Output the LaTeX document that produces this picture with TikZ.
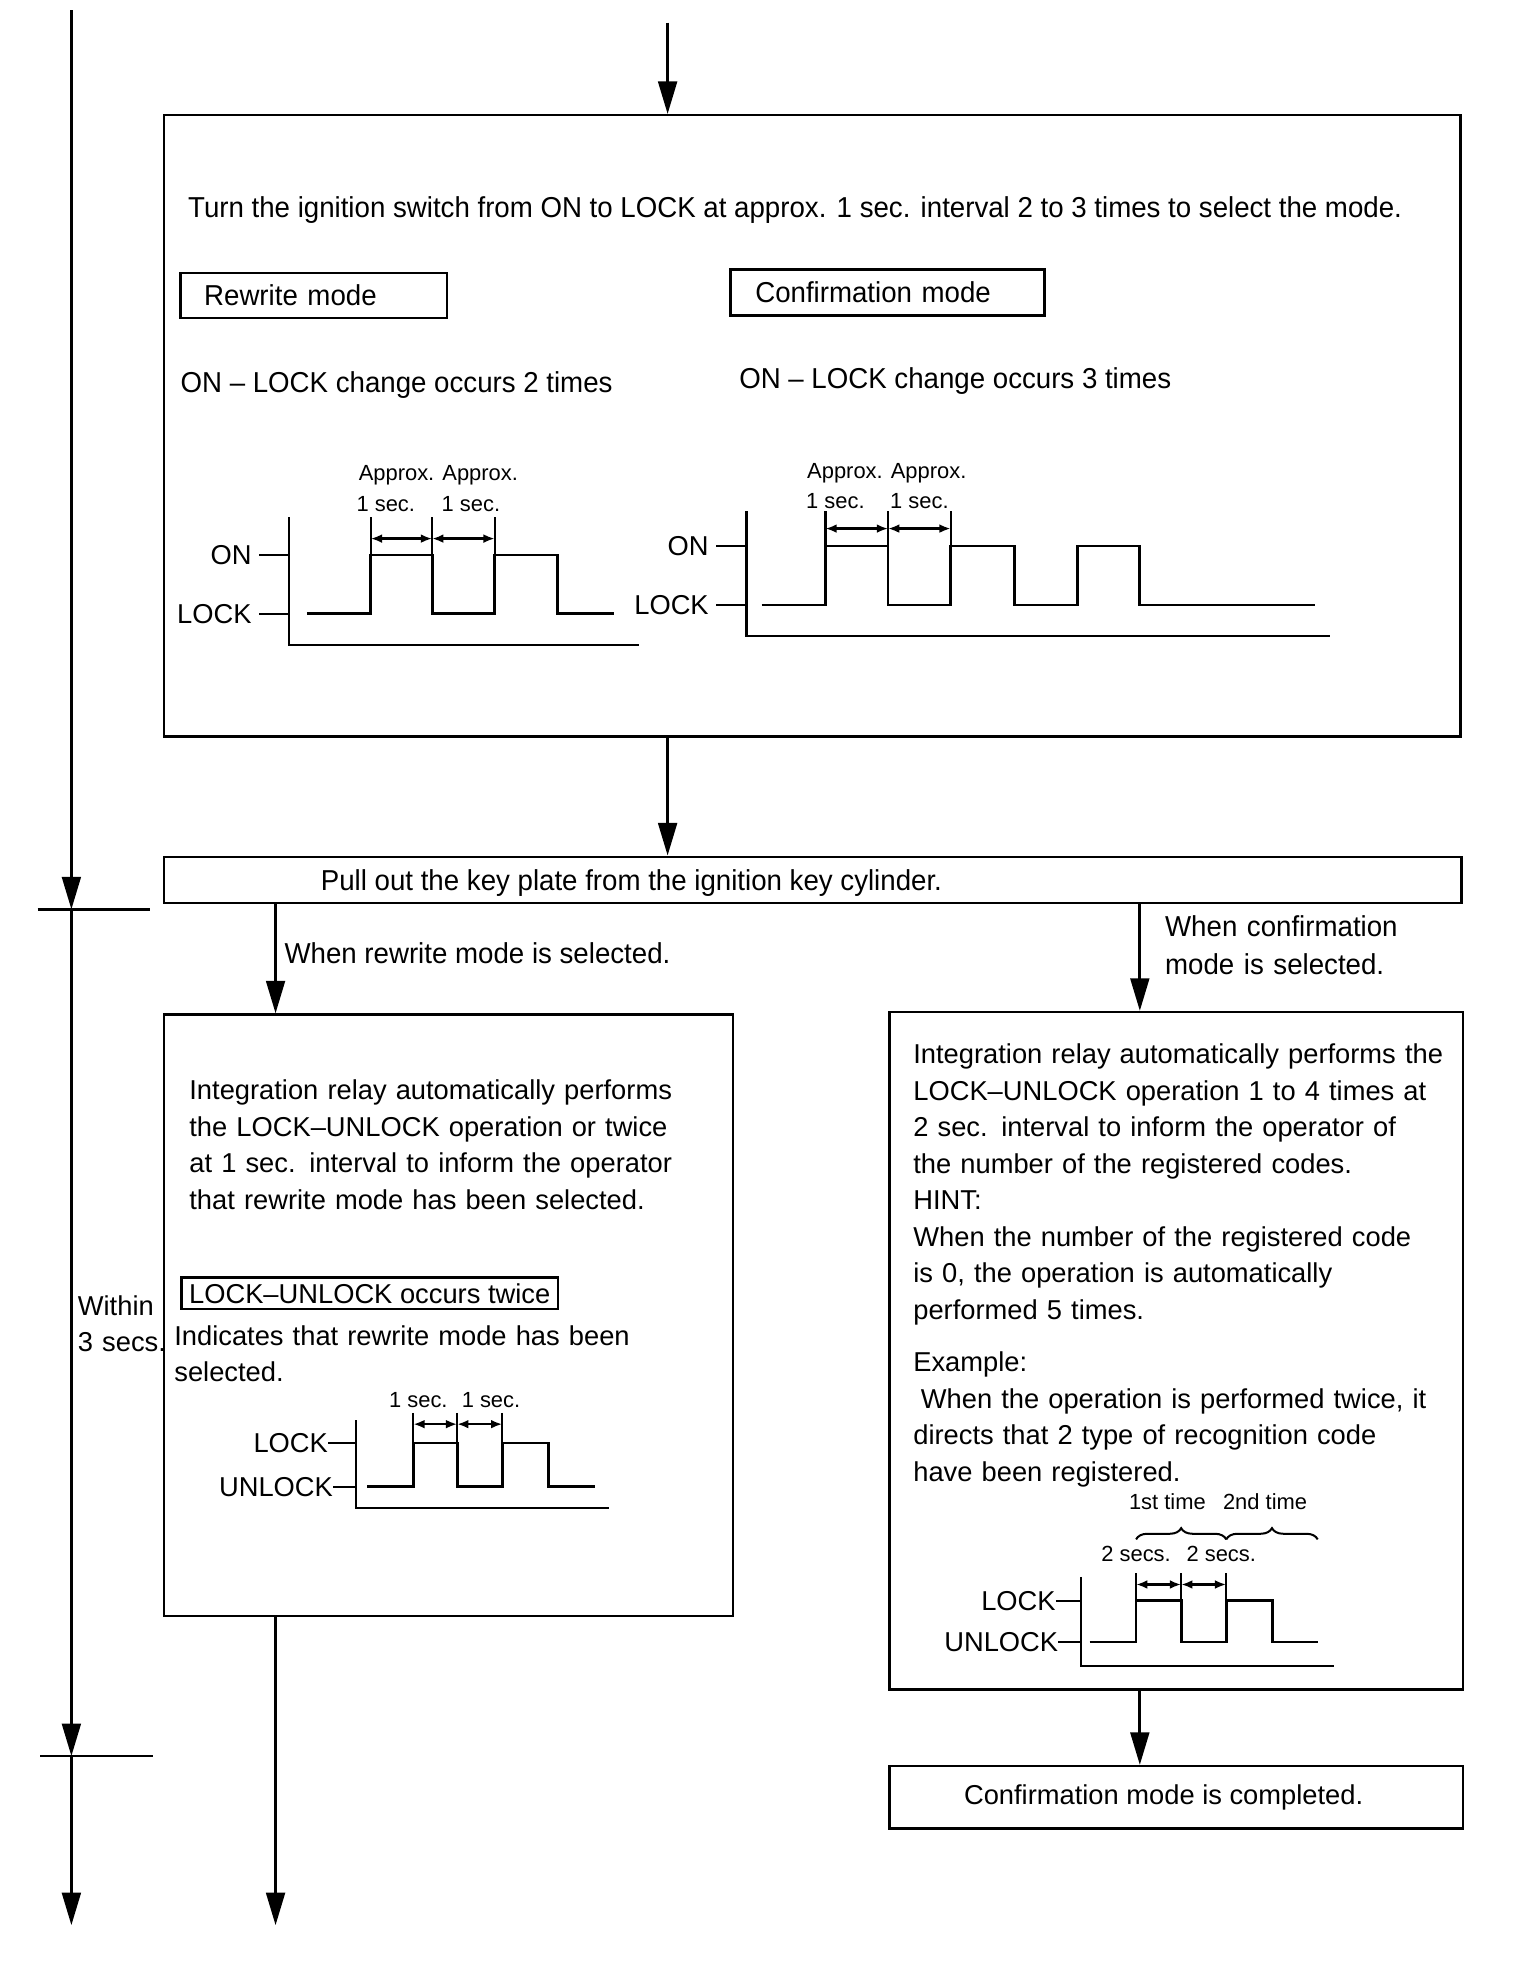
\documentclass[tikz,border=0pt]{standalone}
\usepackage{fontspec}
\setmainfont{Liberation Sans}
\newfontfamily\narrowfont[FakeStretch=0.96]{Liberation Sans}
\usetikzlibrary{arrows.meta,decorations.pathreplacing}

\newcommand{\bodysize}{\fontsize{21.8}{29.2}\selectfont}
\newcommand{\topsize}{\narrowfont\fontsize{23}{30}\selectfont}
\newcommand{\smallsize}{\fontsize{17.5}{20}\selectfont}

\begin{document}
\begin{tikzpicture}[x=1pt,y=-1pt,
  box/.style={draw,line width=2pt,inner sep=0pt},
  flow/.style={line width=2.2pt,-{Triangle[length=26pt,width=15pt]}},
  bar/.style={line width=2.2pt},
  txt/.style={inner sep=0pt,anchor=base west,font=\bodysize},
  ntxt/.style={inner sep=0pt,anchor=base west,font=\topsize},
  para/.style={txt,text width=#1,align=left},
  npara/.style={ntxt,text width=#1,align=left},
  smalltxt/.style={inner sep=0pt,anchor=base,font=\smallsize},
  lvl/.style={inner sep=0pt,anchor=east,font=\bodysize},
  chartaxis/.style={line width=1.8pt},
  wave/.style={line width=2.2pt},
  dimarrow/.style={line width=1.8pt,{Latex[length=9pt,width=7pt]}-{Latex[length=9pt,width=7pt]}},
  brace/.style={decorate,decoration={brace,amplitude=9pt},line width=1.6pt},
]
\useasboundingbox (0,0) rectangle (1214,1568);

% time line on the left
\coordinate (ltop) at (57,8);
\coordinate (t1) at (57,726);
\coordinate (t2) at (57,1402);
\coordinate (lend) at (57,1537);
\draw[flow] (ltop) -- (t1);
\draw[flow] (t1) -- (t2);
\draw[flow] (t2) -- (lend);
\draw[bar] ([xshift=-27pt]t1) -- ([xshift=63pt]t1);
\draw[bar] ([xshift=-25pt]t2) -- ([xshift=65pt]t2);
\node[para=80pt] (within) at (62,1050) {Within\\3 secs.};

% mode selection
\coordinate (tin) at (533,18);
\node[box,minimum width=1035pt,minimum height=496pt] (sel) at (648.5,340) {};
\draw[flow] (tin) -- (tin |- sel.north);
\node[ntxt] (turn) at (150,174) {Turn the ignition switch from ON to LOCK at approx. 1 sec. interval 2 to 3 times to select the mode.};
\node[box,minimum width=213pt,minimum height=36pt,text width=175pt,align=left,font=\topsize] (rwmode) at (250.5,236) {Rewrite mode};
\node[box,minimum width=251pt,minimum height=37pt,text width=211pt,align=left,font=\topsize] (cfmode) at (708.5,233.5) {Confirmation mode};
\node[ntxt] (rwcount) at (144,313) {ON – LOCK change occurs 2 times};
\node[ntxt] (cfcount) at (590,310) {ON – LOCK change occurs 3 times};

% ON/LOCK chart, 2 times
\draw[chartaxis] (231,413) -- (231,515) -- (510,515);
\draw[chartaxis] (207,443) -- (231,443) (207,490) -- (231,490);
\node[lvl] at (201,443) {ON};
\node[lvl] at (201,490) {LOCK};
\draw[wave] (245,490) -- (296,490) -- (296,443) -- (345,443) -- (345,490) -- (395,490) -- (395,443) -- (445,443) -- (445,490) -- (490,490);
\foreach \x in {296,345,395} \draw[chartaxis] (\x,413) -- (\x,443);
\draw[dimarrow] (296,430) -- (345,430);
\draw[dimarrow] (345,430) -- (395,430);
\node[smalltxt] at (350,384) {Approx. Approx.};
\node[smalltxt] at (308,408) {1 sec.};
\node[smalltxt] at (376,408) {1 sec.};

% ON/LOCK chart, 3 times
\draw[chartaxis] (596,408) -- (596,508) -- (1062,508);
\draw[chartaxis] (572,436) -- (596,436) (572,483) -- (596,483);
\node[lvl] at (566,436) {ON};
\node[lvl] at (566,483) {LOCK};
\draw[wave] (608,483) -- (659,483) -- (659,436) -- (709,436) -- (709,483) -- (759,483) -- (759,436) -- (810,436) -- (810,483) -- (860,483) -- (860,436) -- (910,436) -- (910,483) -- (1050,483);
\foreach \x in {659,709,759} \draw[chartaxis] (\x,408) -- (\x,436);
\draw[dimarrow] (659,422) -- (709,422);
\draw[dimarrow] (709,422) -- (759,422);
\node[smalltxt] at (708,382) {Approx. Approx.};
\node[smalltxt] at (667,406) {1 sec.};
\node[smalltxt] at (734,406) {1 sec.};

% key plate
\node[box,minimum width=1036pt,minimum height=37pt] (pull) at (649,702.5) {};
\draw[flow] (tin |- sel.south) -- (tin |- pull.north);
\node[ntxt] at (256,711) {Pull out the key plate from the ignition key cylinder.};

% branches
\coordinate (rwx) at (220,0);
\coordinate (cfx) at (910,0);
\node[box,minimum width=454pt,minimum height=480pt] (rw) at (358,1050) {};
\node[box,minimum width=458pt,minimum height=541pt] (cf) at (939,1078.5) {};
\node[box,minimum width=458pt,minimum height=50pt] (done) at (939,1435) {};
\node[font=\bodysize,inner sep=0pt] at ([xshift=-10pt]done.center) {Confirmation mode is completed.};
\draw[flow] (rwx |- pull.south) -- (rwx |- rw.north);
\draw[flow] (cfx |- pull.south) -- (cfx |- cf.north);
\draw[flow] (cfx |- cf.south) -- (cfx |- done.north);
\draw[flow] (rwx |- rw.south) -- (rwx |- lend);
\node[ntxt] at (227,769) {When rewrite mode is selected.};
\node[npara=240pt] at (930,748) {When confirmation\\mode is selected.};

% rewrite mode box
\node[para=430pt] at (151,878) {Integration relay automatically performs\\the LOCK–UNLOCK operation or twice\\at 1 sec. interval to inform the operator\\that rewrite mode has been selected.};
\node[box,font=\bodysize,inner xsep=6pt,minimum height=25pt,anchor=west] (twice) at (144,1032.5) {LOCK–UNLOCK occurs twice};
\node[para=440pt] at (139,1074) {Indicates that rewrite mode has been\\selected.};
\draw[chartaxis] (284,1134) -- (284,1204) -- (486,1204);
\draw[chartaxis] (262,1152) -- (284,1152) (266,1187) -- (284,1187);
\node[lvl] at (262,1152) {LOCK};
\node[lvl] at (266,1187) {UNLOCK};
\draw[wave] (293,1187) -- (330,1187) -- (330,1152) -- (365,1152) -- (365,1187) -- (401,1187) -- (401,1152) -- (438,1152) -- (438,1187) -- (475,1187);
\foreach \x in {330,365,401} \draw[chartaxis] (\x,1128) -- (\x,1152);
\draw[dimarrow] (330,1137) -- (365,1137);
\draw[dimarrow] (365,1137) -- (401,1137);
\node[smalltxt] at (334,1124) {1 sec.};
\node[smalltxt] at (392,1124) {1 sec.};

% confirmation mode box
\node[para=440pt] at (729,849) {Integration relay automatically performs the\\LOCK–UNLOCK operation 1 to 4 times at\\2 sec. interval to inform the operator of\\the number of the registered codes.\\HINT:\\When the number of the registered code\\is 0, the operation is automatically\\performed 5 times.};
\node[para=440pt] at (729,1095) {Example:\\\hspace*{6pt}When the operation is performed twice, it\\directs that 2 type of recognition code\\have been registered.};
\draw[chartaxis] (863,1259) -- (863,1330) -- (1065,1330);
\draw[chartaxis] (843,1278) -- (863,1278) (845,1311) -- (863,1311);
\node[lvl] at (843,1278) {LOCK};
\node[lvl] at (845,1311) {UNLOCK};
\draw[wave] (870,1311) -- (907,1311) -- (907,1278) -- (943,1278) -- (943,1311) -- (979,1311) -- (979,1278) -- (1016,1278) -- (1016,1311) -- (1052,1311);
\foreach \x in {907,943,979} \draw[chartaxis] (\x,1256) -- (\x,1278);
\draw[dimarrow] (907,1265) -- (943,1265);
\draw[dimarrow] (943,1265) -- (979,1265);
\node[smalltxt] at (907,1247) {2 secs.};
\node[smalltxt] at (975,1247) {2 secs.};
\draw[brace] (907,1229) -- (979,1229);
\draw[brace] (979,1229) -- (1052,1229);
\node[smalltxt] at (932,1205) {1st time};
\node[smalltxt] at (1010,1205) {2nd time};
\end{tikzpicture}
\end{document}
